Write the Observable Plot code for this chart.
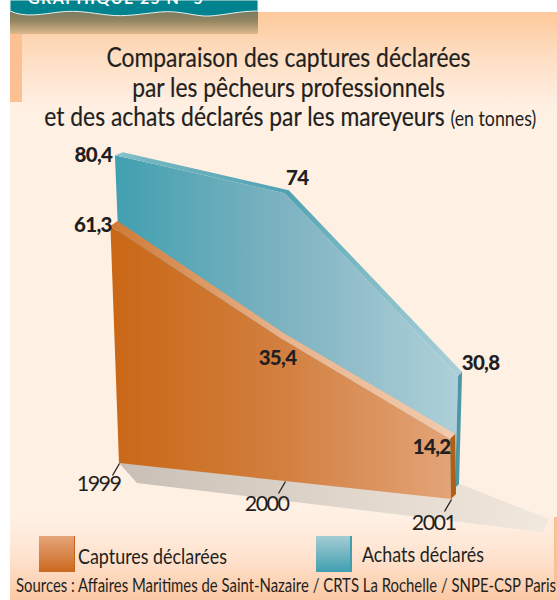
<!DOCTYPE html>
<html lang="fr"><head><meta charset="utf-8">
<script src="https://cdn.jsdelivr.net/npm/d3@7"></script>
<script src="https://cdn.jsdelivr.net/npm/@observablehq/plot@0.6"></script>
<style>
html,body{margin:0;padding:0;background:#fff;}
#page{position:relative;width:557px;height:600px;overflow:hidden;background:#fff;font-family:Lato,sans-serif;color:#231f20;}
#bg{position:absolute;left:10px;top:12px;right:0;bottom:0;background:linear-gradient(to bottom,#fdc99c 0,#fee0c6 50px,#fff0e4 95px,#fff0e4 505px,#fee3cf 545px,#fcc9a4 588px);}
#tab{position:absolute;left:10px;top:34px;width:12px;height:68px;background:#fdc092;}
#tabr{position:absolute;left:554px;top:517px;width:3px;height:70px;background:#fbc096;}
#chart{position:absolute;left:0;top:0;}
#chart svg{display:block;overflow:visible;background:transparent;}
.yr text{letter-spacing:-1.6px;}
.val text{letter-spacing:-.7px;}
.t{position:absolute;white-space:nowrap;}
#title{left:0;width:577px;top:42px;text-align:center;font-size:27px;line-height:29.5px;transform-origin:288.5px 0;-webkit-text-stroke:.2px #231f20;}
#title small{font-size:21px;-webkit-text-stroke:0;}
.sw{position:absolute;top:536px;width:36px;height:36px;}
#banner{position:absolute;left:0;top:0;}
.fit{transform-origin:0 0;}
</style></head><body>
<div id="page">
<div id="bg"></div><div id="tab"></div><div id="tabr"></div>
<svg id="banner" width="262" height="36">
<defs><linearGradient id="bandG" x1="0" y1="0" x2="0" y2="1"><stop offset="0" stop-color="#6f7560"/><stop offset=".5" stop-color="#948660"/><stop offset="1" stop-color="#dcb88e"/></linearGradient></defs>
<rect x="10" y="8" width="248" height="26" fill="url(#bandG)"/>
<path d="M10,0H258V11C240,11 225,15 210,16C196,17 180,10 160,12C140,14 125,17 108,15C90,13 78,10 60,12C42,14 25,18 10,11Z" fill="#00838f" stroke="#e6f0ee" stroke-width="1"/>
<text x="28" y="3.5" font-family="Lato" font-weight="700" font-size="16" fill="#fff" letter-spacing="1.4">GRAPHIQUE 25 N° 5</text>
</svg>
<div id="chart"></div>
<div class="t" id="title">Comparaison des captures déclarées<br>par les pêcheurs professionnels<br><span id="line3">et des achats déclarés par les mareyeurs <small>(en tonnes)</small></span></div>
<div class="sw" style="left:39px;background:linear-gradient(#e5a47a,#cb691f);border-right:1px solid #c8641a;box-sizing:border-box;"></div>
<div class="sw" style="left:316px;background:linear-gradient(#a5ccd4,#3f9fb0);border-right:2px solid #3f9fb0;box-sizing:border-box;"></div>
<div class="t fit" data-w="149" style="left:78px;top:543px;font-size:21px;">Captures déclarées</div>
<div class="t fit" data-w="122" style="left:362px;top:541px;font-size:21px;">Achats déclarés</div>
<div class="t fit" data-w="540" style="left:16px;top:573px;font-size:19px;">Sources : Affaires Maritimes de Saint-Nazaire / CRTS La Rochelle / SNPE-CSP Paris</div>
</div>
<script>
// Data (tonnes)
const years = [1999, 2000, 2001];
const captures = [61.3, 35.4, 14.2];
const achats = [80.4, 74, 30.8];
const capturesLabels = ["61,3", "35,4", "14,2"];
const achatsLabels = ["80,4", "74", "30,8"];

// Pseudo-perspective of the original drawing, relative to the scales
const pxPerYear = 166, pxPerUnit = 4;
const planes = {
  captures: {offX:[0,0,0], floor:[0,-4.5,-9], k:[3.866,4.046,4.226], lean:[-.14,-.14,-.06], depthX:[7,3,5], depthY:[-5,-5,-5]},
  achats:   {offX:[8,2,4], floor:[2.75,-1.75,-6.25], k:[3.69,3.74,3.64], lean:[-.15,-.03,.1], depthX:[8,4,4], depthY:[-3,-3,-4]}
};
function proj(plane, i, v, dx = 0, dy = 0) {
  const p = planes[plane];
  return {
    x: years[i] + (p.offX[i] + p.lean[i] * v + dx) / pxPerYear,
    y: p.floor[i] + (p.k[i] * v - dy) / pxPerUnit
  };
}
function ribbon(plane, values) {
  return years.map((_, i) => {
    const a = proj(plane, i, values[i]), p = planes[plane];
    const b = proj(plane, i, values[i], p.depthX[i], p.depthY[i]);
    return {x1:a.x, y1:a.y, x2:b.x, y2:b.y};
  });
}
function face(plane, values) {
  return years.map((_, i) => {
    const a = proj(plane, i, values[i]), b = proj(plane, i, 0);
    return {x1:a.x, y1:a.y, x2:b.x, y2:b.y};
  });
}
function side(plane, values) {
  const i = years.length - 1, p = planes[plane];
  const c = (v) => {
    const a = proj(plane, i, v), b = proj(plane, i, v, p.depthX[i], p.depthY[i]);
    return {x1:a.x, y1:a.y, x2:b.x, y2:b.y};
  };
  return [c(values[i]), c(0)];
}
const rows = (g) => ({x1:"x1", y1:"y1", x2:"x2", y2:"y2", fill:`url(#${g})`});

// Ground shadow, offset from the two chart feet
const A = proj("captures", 0, 0), C = proj("achats", 2, 0);
const off = (P, dx, dyDown) => ({x:P.x + dx/pxPerYear, y:P.y - dyDown/pxPerUnit});
const corner = off(C, 88, 44);
const shadow = [
  {x1:A.x, y1:A.y, x2:off(A,18,20).x, y2:off(A,18,20).y},
  {x1:off(C,5,-4).x, y1:off(C,5,-4).y, x2:corner.x, y2:corner.y},
  {x1:off(C,94,31).x, y1:off(C,94,31).y, x2:corner.x, y2:corner.y}
];

const base = years.map((y, i) => ({year:y, ...proj("captures", i, 0), dx:[-21,-19,-18][i], dy:[21,22.5,24][i]}));

const gradient = (id, stops) => `<linearGradient id="${id}" x1="0" y1="0" x2="1" y2="0">${stops.map(([o,c]) => `<stop offset="${o}" stop-color="${c}"/>`).join("")}</linearGradient>`;
const defs = () => {
  const g = document.createElementNS("http://www.w3.org/2000/svg", "defs");
  g.innerHTML = [
    gradient("gCap", [[0,"#c96716"],[.5,"#d27f3f"],[1,"#e3a478"]]),
    gradient("gAch", [[0,"#41a0b0"],[.5,"#7fb3c1"],[1,"#aed0d8"]]),
    gradient("gCapTop", [[0,"#cf7a36"],[.5,"#e9b38c"],[1,"#f3cbae"]]),
    gradient("gAchTop", [[0,"#8bc3ce"],[.1,"#74b5c2"],[.5,"#4fa2b2"],[.62,"#6db2bf"],[1,"#aad0d8"]]),
    gradient("gShadow", [[0,"#c8bfb6"],[.5,"#e0d5ca"],[1,"#f1e8de"]]),
    gradient("gCapSide", [[0,"#b05f18"],[1,"#b05f18"]]),
    gradient("gAchSide", [[0,"#4f96a5"],[1,"#4f96a5"]])
  ].join("");
  return g;
};

const valueLabels = [
  ...years.map((y, i) => ({...proj("achats", i, achats[i]), t:achatsLabels[i], dx:[-22,12,22][i], dy:[0,-15,-13][i]})),
  ...years.map((y, i) => ({...proj("captures", i, captures[i]), t:capturesLabels[i], dx:[-18,-3,-19][i], dy:[-1,20,8][i]}))
];
const labelMark = (d) => Plot.text([d], {x:"x", y:"y", text:"t", dx:d.dx, dy:d.dy, fontSize:20.5, fontWeight:900, fill:"#231f20", fontFamily:"Lato", className:"val"});

const chart = Plot.plot({
  width:557, height:600, margin:0,
  style:{background:"transparent", overflow:"visible"},
  x:{type:"linear", domain:[1999,2001], range:[119,451], axis:null},
  y:{type:"linear", domain:[0,100], range:[463,63], axis:null},
  marks:[
    defs,
    Plot.area(shadow, rows("gShadow")),
    Plot.area(face("achats", achats), rows("gAch")),
    Plot.area(ribbon("achats", achats), rows("gAchTop")),
    Plot.area(side("achats", achats), rows("gAchSide")),
    Plot.link([proj("achats", 2, 0)], {x1:"x", y1:"y", x2:d => d.x - 5/pxPerYear, y2:d => d.y - 10/pxPerUnit, stroke:"#231f20", strokeWidth:1.3}),
    Plot.area(face("captures", captures), rows("gCap")),
    Plot.area(ribbon("captures", captures), rows("gCapTop")),
    Plot.area(side("captures", captures), rows("gCapSide")),
    Plot.link(base, {x1:"x", y1:"y", x2:d => d.x - 7/pxPerYear, y2:d => d.y - 12/pxPerUnit, stroke:"#231f20", strokeWidth:1.3}),
    ...base.map(d => Plot.text([d], {x:"x", y:"y", text:b => String(b.year), dx:d.dx, dy:d.dy, fontSize:21.5, fill:"#231f20", fontFamily:"Lato", className:"yr"})),
    ...valueLabels.map(labelMark)
  ]
});
document.getElementById("chart").append(chart);

// Condense text to the measured widths of the reference
document.querySelectorAll(".fit").forEach(el => {
  el.style.transform = `scaleX(${+el.dataset.w / el.getBoundingClientRect().width})`;
});
const t = document.getElementById("title");
t.style.transform = `scaleX(${492 / document.getElementById("line3").getBoundingClientRect().width})`;
</script>
</body></html>
